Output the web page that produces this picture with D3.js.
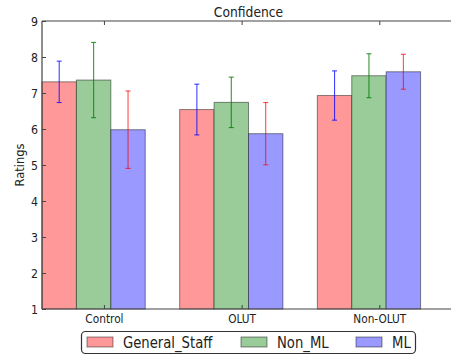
<!DOCTYPE html>
<html>
<head>
<meta charset="utf-8">
<script src="https://cdn.jsdelivr.net/npm/d3@7"></script>
<style>
  html, body { margin: 0; padding: 0; background: #fff; }
  svg { display: block; font-family: "DejaVu Sans", sans-serif; }
</style>
</head>
<body>
<svg id="chart" width="451" height="356"></svg>
<script>
const categories = ["Control", "OLUT", "Non-OLUT"];
const seriesNames = ["General_Staff", "Non_ML", "ML"];
const generalStaff = [7.31, 6.54, 6.93];
const nonML = [7.36, 6.74, 7.48];
const ml = [5.98, 5.87, 7.59];
const generalStaffErr = [0.575, 0.705, 0.685];
const nonMLErr = [1.045, 0.70, 0.61];
const mlErr = [1.075, 0.865, 0.485];
const yTicks = [1, 2, 3, 4, 5, 6, 7, 8, 9];
const titleText = "Confidence";
const yLabelText = "Ratings";

(function () {
const fills = ["#ff9999", "#99cc99", "#9999ff"];
const errColors = ["rgba(0,0,255,0.75)", "rgba(0,128,0,0.8)", "rgba(255,0,0,0.7)"];
const values = [generalStaff, nonML, ml];
const errs = [generalStaffErr, nonMLErr, mlErr];
const barW = 0.25;

const svg = d3.select("#chart");
const mLeft = 42, mRight = 455, mTop = 21, mBottom = 309;
const x = d3.scaleLinear().domain([0, 3]).range([mLeft, mRight]);
const y = d3.scaleLinear().domain([1, 9]).range([mBottom, mTop]);
const squeeze = 0.88;

function squeezeText(sel) {
  sel.each(function () {
    const len = this.getComputedTextLength();
    d3.select(this).attr("textLength", len * squeeze).attr("lengthAdjust", "spacingAndGlyphs");
  });
}

// bars
seriesNames.forEach((name, s) => {
  const g = svg.append("g");
  g.selectAll("rect").data(categories).join("rect")
    .attr("x", (d, i) => x(i + s * barW))
    .attr("y", (d, i) => y(values[s][i]))
    .attr("width", x(barW) - x(0))
    .attr("height", (d, i) => y(1) - y(values[s][i]))
    .attr("fill", fills[s])
    .attr("stroke", "rgba(0,0,0,0.45)")
    .attr("stroke-width", 1);
});

// error bars
seriesNames.forEach((name, s) => {
  const g = svg.append("g").attr("stroke", errColors[s]).attr("stroke-width", 1.1);
  categories.forEach((c, i) => {
    const cx = x(i + s * barW + barW / 2);
    const hi = y(values[s][i] + errs[s][i]);
    const lo = y(values[s][i] - errs[s][i]);
    g.append("line").attr("x1", cx).attr("x2", cx).attr("y1", hi).attr("y2", lo);
    g.append("line").attr("x1", cx - 2.5).attr("x2", cx + 2.5).attr("y1", hi).attr("y2", hi);
    g.append("line").attr("x1", cx - 2.5).attr("x2", cx + 2.5).attr("y1", lo).attr("y2", lo);
  });
});

// frame
const frame = svg.append("g").attr("stroke", "#444").attr("stroke-width", 1.2).attr("fill", "none");
frame.append("line").attr("x1", mLeft).attr("x2", mRight).attr("y1", mTop).attr("y2", mTop);
frame.append("line").attr("x1", mLeft).attr("x2", mRight).attr("y1", mBottom).attr("y2", mBottom);
frame.append("line").attr("x1", mLeft).attr("x2", mLeft).attr("y1", mTop).attr("y2", mBottom);

// y axis (ticks inward)
const yAxis = svg.append("g").attr("transform", `translate(${mLeft},0)`)
  .call(d3.axisLeft(y).tickValues(yTicks).tickFormat(d3.format("d")).tickSizeInner(-4).tickSizeOuter(0).tickPadding(4));
yAxis.select(".domain").remove();
yAxis.selectAll(".tick line").attr("stroke", "#444");
yAxis.selectAll(".tick text").attr("font-size", 12.5).attr("fill", "#222").attr("font-family", "DejaVu Sans").call(squeezeText);

// x axis bottom (ticks inward)
const tickPos = categories.map((c, i) => i + 0.45);
const xAxis = svg.append("g").attr("transform", `translate(0,${mBottom})`)
  .call(d3.axisBottom(x).tickValues(tickPos).tickFormat((d, i) => categories[i]).tickSizeInner(-4).tickSizeOuter(0).tickPadding(5.5));
xAxis.select(".domain").remove();
xAxis.selectAll(".tick line").attr("stroke", "#444");
xAxis.selectAll(".tick text").attr("font-size", 12).attr("fill", "#222").attr("font-family", "DejaVu Sans").call(squeezeText);

// top ticks
const xTop = svg.append("g").attr("transform", `translate(0,${mTop})`)
  .call(d3.axisTop(x).tickValues(tickPos).tickFormat("").tickSizeInner(-4).tickSizeOuter(0));
xTop.select(".domain").remove();
xTop.selectAll(".tick line").attr("stroke", "#444");

// title
svg.append("text").attr("x", (mLeft + mRight) / 2).attr("y", 16.5)
  .attr("text-anchor", "middle").attr("font-size", 14).attr("fill", "#222")
  .text(titleText).call(squeezeText);

// y label
svg.append("text").attr("transform", `translate(24,${(mTop + mBottom) / 2}) rotate(-90)`)
  .attr("text-anchor", "middle").attr("font-size", 11.5).attr("fill", "#222")
  .text(yLabelText);

// legend
const lg = svg.append("g");
lg.append("rect").attr("x", 81.5).attr("y", 331.5).attr("width", 334).attr("height", 22)
  .attr("rx", 4).attr("fill", "#fff").attr("stroke", "#333").attr("stroke-width", 1.2);
const patchX = [87, 241, 356];
seriesNames.forEach((name, s) => {
  lg.append("rect").attr("x", patchX[s]).attr("y", 337).attr("width", 26).attr("height", 10)
    .attr("fill", fills[s]).attr("stroke", "rgba(0,0,0,0.45)").attr("stroke-width", 1);
  lg.append("text").attr("x", patchX[s] + 36).attr("y", 347.5)
    .attr("font-size", 15).attr("fill", "#222").text(name).call(squeezeText);
});
})();
</script>
</body>
</html>
